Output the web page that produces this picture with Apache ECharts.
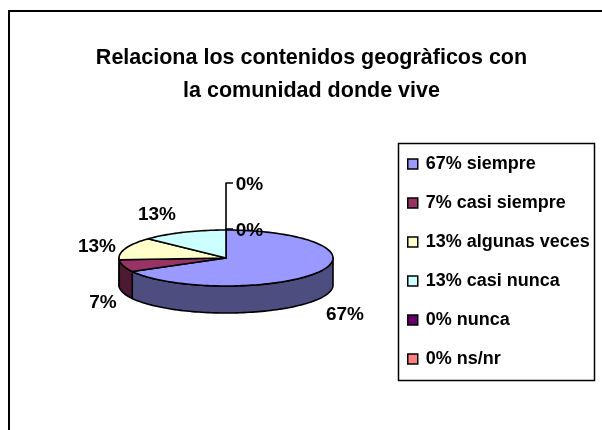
<!DOCTYPE html>
<html><head><meta charset="utf-8">
<style>html,body{margin:0;padding:0;background:#fff}#c{width:602px;height:430px}</style>
<script src="https://cdn.jsdelivr.net/npm/echarts@6/dist/echarts.min.js"></script>
</head><body><div id="c"></div>
<script>
const categories = ['siempre','casi siempre','algunas veces','casi nunca','nunca','ns/nr'];
const values = [67,7,13,13,0,0];
const colors = ['#9999FF','#993366','#FFFFCC','#CCFFFF','#660066','#FF8080'];
const sideColors = ['#4D4D80','#4D1933','#808066','#668080','#330033','#804040'];
const FONT = '"Liberation Sans"';
const pie = {cx:226, cy:258, rx:107, ry:28, depth:27};
const labelAt = [[345,314.5],[103,302.5],[97,246.5],[157,214.5],[249.5,230.5],[249.5,184.5]];
const total = values.reduce((a,b)=>a+b,0);
const starts = values.map((v,i)=>values.slice(0,i).reduce((a,b)=>a+b,0));
const toAngle = v => echarts.number.linearMap(v,[0,total],[0,Math.PI*2]);
const pt = (t,dy=0) => [pie.cx+pie.rx*Math.sin(t), pie.cy-pie.ry*Math.cos(t)+dy];
function arc(a,b,dy){const n=Math.max(2,Math.ceil((b-a)/0.03));const p=[];for(let k=0;k<=n;k++)p.push(pt(a+(b-a)*k/n,dy));return p;}
const stroke={stroke:'#000',lineWidth:1.6,lineJoin:'round'};
function renderSlice(i){return function(params,api){
  const v=api.value(0); const children=[];
  const a=toAngle(starts[i]), b=toAngle(starts[i]+v);
  if(v>0){
    const sa=Math.max(a,Math.PI/2), sb=Math.min(b,Math.PI*1.5);
    if(sb>sa){
      children.push({type:'polygon',z2:1,shape:{points:arc(sa,sb,0).concat(arc(sa,sb,pie.depth).reverse())},style:{fill:sideColors[i],...stroke}});
    }
    children.push({type:'polygon',z2:2,shape:{points:[[pie.cx,pie.cy]].concat(arc(a,b,0))},style:{fill:colors[i],...stroke}});
  } else {
    const top=pt(a);
    const lx=labelAt[i][0], ly=labelAt[i][1]-1.5;
    children.push({type:'polyline',z2:3,shape:{points:[[top[0],top[1]],[top[0],ly],[lx-16.5,ly]]},style:{fill:null,...stroke}});
  }
  children.push({type:'text',z2:4,style:{x:labelAt[i][0],y:labelAt[i][1],text:v+'%',align:'center',verticalAlign:'middle',font:'bold 19px '+FONT,fill:'#000'}});
  return {type:'group',children};
};}
const chart=echarts.init(document.getElementById('c'),null,{renderer:'canvas'});
chart.setOption({
  animation:false,
  backgroundColor:'#fff',
  title:{text:'Relaciona los contenidos geogràficos con\nla comunidad donde vive',left:306.5,top:37,textAlign:'center',
    textStyle:{fontFamily:FONT,fontWeight:'bold',fontSize:21.5,lineHeight:33,color:'#000'}},
  legend:{orient:'vertical',left:407,top:155,padding:0,itemGap:21,itemWidth:10,itemHeight:10,icon:'rect',
    data:categories.map((c,i)=>values[i]+'% '+c),
    itemStyle:{borderColor:'#000',borderWidth:1.5},
    textStyle:{fontFamily:FONT,fontWeight:'bold',fontSize:18,color:'#000',padding:[0,0,0,3]}},
  graphic:[
    {type:'polyline',z:0,shape:{points:[[9,430],[9,11],[602,11]]},style:{fill:null,stroke:'#000',lineWidth:2}},
    {type:'rect',z:0,shape:{x:398.5,y:143.5,width:196,height:237},style:{fill:'#fff',stroke:'#000',lineWidth:1.5}}
  ],
  series:categories.map((c,i)=>({
    type:'custom',name:values[i]+'% '+c,coordinateSystem:'none',
    itemStyle:{color:colors[i]},
    data:[[values[i]]],
    renderItem:renderSlice(i),
    silent:true,z:i+1
  }))
});
</script></body></html>
